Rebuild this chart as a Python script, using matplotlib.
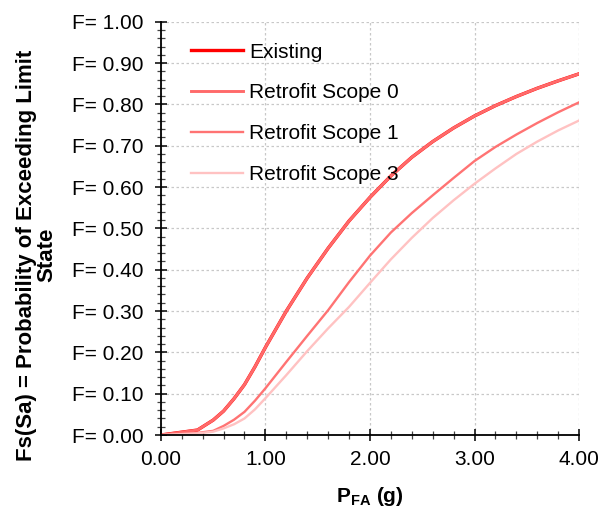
import matplotlib
matplotlib.use("Agg")
import matplotlib.pyplot as plt
from matplotlib.ticker import MultipleLocator, FormatStrFormatter, FuncFormatter

plt.rcParams['font.family'] = ['Liberation Sans', 'DejaVu Sans']
plt.rcParams['mathtext.fontset'] = 'custom'
plt.rcParams['mathtext.bf'] = 'Liberation Sans:bold'
plt.rcParams['mathtext.rm'] = 'Liberation Sans'

# ---- data ----
pfa = [0.0, 0.35, 0.5, 0.6, 0.7, 0.8, 0.9, 1.0, 1.2, 1.4, 1.6, 1.8, 2.0,
       2.2, 2.4, 2.6, 2.8, 3.0, 3.2, 3.4, 3.6, 3.8, 4.0]
existing = [0.0, 0.012, 0.036, 0.058, 0.088, 0.122, 0.165, 0.212, 0.300, 0.380,
            0.452, 0.518, 0.575, 0.627, 0.672, 0.710, 0.743, 0.772, 0.797,
            0.819, 0.839, 0.857, 0.874]
scope0 = [0.0, 0.012, 0.036, 0.058, 0.088, 0.122, 0.165, 0.212, 0.300, 0.380,
          0.452, 0.518, 0.575, 0.627, 0.672, 0.710, 0.743, 0.772, 0.797,
          0.819, 0.839, 0.857, 0.874]
scope1 = [0.0, 0.005, 0.010, 0.022, 0.037, 0.056, 0.083, 0.113, 0.177, 0.240,
          0.302, 0.370, 0.434, 0.490, 0.537, 0.580, 0.622, 0.663, 0.697,
          0.727, 0.755, 0.781, 0.805]
scope3 = [0.0, 0.004, 0.008, 0.016, 0.026, 0.040, 0.062, 0.089, 0.145, 0.203,
          0.258, 0.310, 0.368, 0.425, 0.477, 0.525, 0.568, 0.608, 0.645,
          0.680, 0.710, 0.737, 0.761]

labels = ["Existing", "Retrofit Scope 0", "Retrofit Scope 1", "Retrofit Scope 3"]
colors = ["#FF0000", "#FF6A6A", "#FF7373", "#FFC2C2"]

fig = plt.figure(figsize=(6.07, 5.08), dpi=100)
ax = fig.add_axes([0.265, 0.1437, 0.689, 0.8135])

ax.plot(pfa, existing, color=colors[0], lw=2.4, label=labels[0], solid_joinstyle='round')
ax.plot(pfa, scope0, color=colors[1], lw=2.1, label=labels[1], solid_joinstyle='round')
ax.plot(pfa, scope1, color=colors[2], lw=1.7, label=labels[2], solid_joinstyle='round')
ax.plot(pfa, scope3, color=colors[3], lw=1.7, label=labels[3], solid_joinstyle='round')

ax.set_xlim(0, 4.0)
ax.set_ylim(0, 1.0)
ax.xaxis.set_major_locator(MultipleLocator(1.0))
ax.xaxis.set_minor_locator(MultipleLocator(0.2))
ax.yaxis.set_major_locator(MultipleLocator(0.1))
ax.yaxis.set_minor_locator(MultipleLocator(0.02))
ax.xaxis.set_major_formatter(FormatStrFormatter('%.2f'))
ax.yaxis.set_major_formatter(FuncFormatter(lambda v, p: "F= %.2f" % v))

ax.tick_params(which='major', direction='inout', length=9, width=1.1,
               labelsize=15, pad=8, color='black')
ax.tick_params(which='minor', direction='inout', length=6, width=0.9, color='#444444')
ax.tick_params(axis='x', which='major', pad=6)

for s in ['top', 'right']:
    ax.spines[s].set_visible(False)
for s in ['left', 'bottom']:
    ax.spines[s].set_linewidth(1.3)

ax.grid(True, which='major', color='#C8C8C8', linestyle=(0, (2, 2)), linewidth=0.9)
ax.set_axisbelow(True)

ax.set_xlabel(r'$\mathbf{P}_{\mathbf{FA}}$ (g)', fontsize=15, fontweight='bold', labelpad=12)
ax.set_ylabel("Fs(Sa) = Probability of Exceeding Limit\nState", fontsize=16,
              fontweight='bold', linespacing=0.95, ha='center', va='center')
ax.yaxis.set_label_coords(-0.296, 0.435)

leg = ax.legend(loc='upper left', bbox_to_anchor=(0.027, 0.995), frameon=False,
                fontsize=15, handlelength=2.5, handletextpad=0.3, labelspacing=1.05)

fig.savefig("out.png", dpi=100)
